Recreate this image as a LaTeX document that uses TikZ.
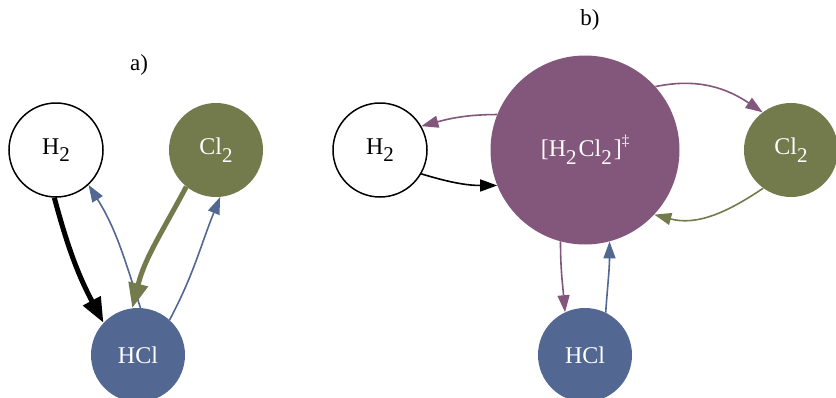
\documentclass[tikz,border=0pt]{standalone}
\usepackage{fontspec}
\setmainfont{Liberation Serif}
\usetikzlibrary{arrows.meta}
\definecolor{olivec}{HTML}{737B4C}
\definecolor{plumc}{HTML}{83577B}
\definecolor{bluec}{HTML}{526791}
% lowered, slightly smaller digit used as a chemical subscript
\newcommand{\chemsub}[1]{\raisebox{-0.32em}{\fontsize{21}{21}\selectfont #1}}
\begin{document}
\begin{tikzpicture}[x=1pt,y=-1pt,
  mol/.style={circle, inner sep=0pt, minimum size=94pt, font=\fontsize{24}{28}\selectfont},
  tstate/.style={circle, inner sep=0pt, minimum size=189pt, font=\fontsize{24}{28}\selectfont},
  outline/.style={draw=black, line width=1.5pt},
  panel/.style={font=\fontsize{23}{27}\selectfont},
  thinarrow/.style={line width=1.6pt, -{Triangle[length=17pt,width=12pt]}},
  thickarrow/.style={line width=5pt, -{Triangle[length=25pt,width=19pt]}}]
\fill[white] (0,0) rectangle (836,397);
\useasboundingbox (0,0) rectangle (836,397);

% panel a)
\node[panel] (la) at (139,65) {a)};
\node[mol, outline] (h2a) at (56,150) {H\chemsub{2}};
\node[mol, fill=olivec, text=white] (cl2a) at (216,150) {Cl\chemsub{2}};
\node[mol, fill=bluec, text=white] (hcla) at (138,355) {HCl};

\draw[thickarrow, black] (h2a.-92) to[out=-75, in=118] (hcla.137);
\draw[thinarrow, bluec] (hcla.87) to[out=108, in=-58] (h2a.-47);
\draw[thickarrow, olivec] (cl2a.-129) to[out=-118, in=76] (hcla.97);
\draw[thinarrow, bluec] (hcla.48) to[out=62, in=-112] (cl2a.-85);

% panel b)
\node[panel] (lb) at (590,20) {b)};
\node[mol, outline] (h2b) at (380,150) {H\chemsub{2}};
\node[tstate, fill=plumc, text=white] (ts) at (585,150)
  {[H\chemsub{2}\kern2pt Cl\chemsub{2}\kern2pt]\raisebox{0.45em}{\fontsize{15}{15}\selectfont ‡}};
\node[mol, fill=olivec, text=white] (cl2b) at (791,150) {Cl\chemsub{2}};
\node[mol, fill=bluec, text=white] (hclb) at (585,355) {HCl};

\draw[thinarrow, plumc] (ts.158) to[out=180, in=15] (h2b.30);
\draw[thinarrow, black] (h2b.-30) to[out=-17, in=180] (ts.-158);
\draw[thinarrow, plumc] (ts.42) to[out=12, in=146] (cl2b.127);
\draw[thinarrow, olivec] (cl2b.-126) to[out=-146, in=-15] (ts.-43);
\draw[thinarrow, plumc] (ts.-105) to[out=-90, in=95] (hclb.115);
\draw[thinarrow, bluec] (hclb.64) to[out=86, in=-90] (ts.-75);
\end{tikzpicture}
\end{document}
